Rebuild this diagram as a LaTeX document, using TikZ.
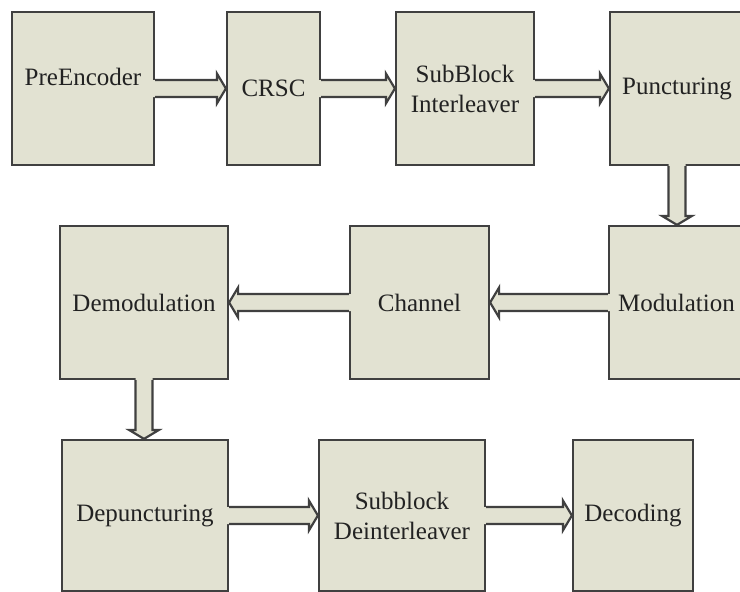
\documentclass[tikz,border=0pt]{standalone}
\usepackage{fontspec}
\setmainfont{Liberation Serif}
\usetikzlibrary{calc}

\definecolor{boxfill}{RGB}{226,226,210}
\definecolor{boxline}{RGB}{64,64,64}
\definecolor{labelink}{RGB}{34,34,34}

\tikzset{
  block/.style={draw=boxline, fill=boxfill, line width=2.2pt, inner sep=0pt,
    text=labelink, font=\fontsize{25}{30}\selectfont, align=center},
  pipeedge/.style={draw=boxline, line width=2.2pt, line join=miter, line cap=butt},
}

% Hollow block arrow from anchor #1 to anchor #2 (shaft 17pt wide, head 30pt wide)
\newcommand\pipe[2]{%
  \coordinate (pS) at (#1);
  \coordinate (pT) at (#2);
  \coordinate (pB) at ($(pS)!-2pt!(pT)$);
  \coordinate (pH) at ($(pT)!9pt!(pS)$);
  \coordinate (sA) at ($(pS)!8.5pt!90:(pT)$);
  \coordinate (sB) at ($(pS)!8.5pt!-90:(pT)$);
  \coordinate (bA) at ($(pB)!8.5pt!90:(pT)$);
  \coordinate (bB) at ($(pB)!8.5pt!-90:(pT)$);
  \coordinate (hA) at ($(pH)!8.5pt!-90:(pS)$);
  \coordinate (hB) at ($(pH)!8.5pt!90:(pS)$);
  \coordinate (wA) at ($(pH)!15pt!-90:(pS)$);
  \coordinate (wB) at ($(pH)!15pt!90:(pS)$);
  \fill[boxfill] (bA) -- (hA) -- (wA) -- (pT) -- (wB) -- (hB) -- (bB) -- cycle;
  \draw[pipeedge] (sA) -- (hA) -- (wA) -- (pT) -- (wB) -- (hB) -- (sB);
}

\begin{document}
\begin{tikzpicture}[x=1pt, y=-1pt]
  \useasboundingbox (0,0) rectangle (740,592);
  \clip (0,0) rectangle (740,592);
  \fill[white] (0,0) rectangle (740,592);

  % transmitter chain
  \node[block, minimum width=142pt, minimum height=153pt, text depth=24pt] (pre) at (83,88.5) {PreEncoder};
  \node[block, minimum width=93pt,  minimum height=153pt] (crsc)  at (273.5,88.5) {CRSC};
  \node[block, minimum width=138pt, minimum height=153pt] (sbi)   at (465,88.5)   {SubBlock\\Interleaver};
  \node[block, minimum width=134pt, minimum height=153pt] (punct) at (677,88.5)   {Puncturing};

  % modulation, channel, demodulation
  \node[block, minimum width=135pt, minimum height=153pt] (mod)   at (676.5,302.5) {Modulation};
  \node[block, minimum width=139pt, minimum height=153pt] (chan)  at (419.5,302.5) {Channel};
  \node[block, minimum width=168pt, minimum height=153pt] (demod) at (144,302.5)   {Demodulation};

  % receiver chain
  \node[block, minimum width=166pt, minimum height=151pt] (depunct) at (145,515.5) {Depuncturing};
  \node[block, minimum width=166pt, minimum height=151pt] (sbd)     at (402,515.5) {Subblock\\Deinterleaver};
  \node[block, minimum width=120pt, minimum height=151pt] (dec)     at (633,515.5) {Decoding};

  % connectors
  \pipe{pre.east}{crsc.west}
  \pipe{crsc.east}{sbi.west}
  \pipe{sbi.east}{punct.west}
  \pipe{punct.south}{punct.south |- mod.north}
  \pipe{mod.west}{chan.east}
  \pipe{chan.west}{demod.east}
  \pipe{demod.south}{demod.south |- depunct.north}
  \pipe{depunct.east}{sbd.west}
  \pipe{sbd.east}{dec.west}
\end{tikzpicture}
\end{document}
